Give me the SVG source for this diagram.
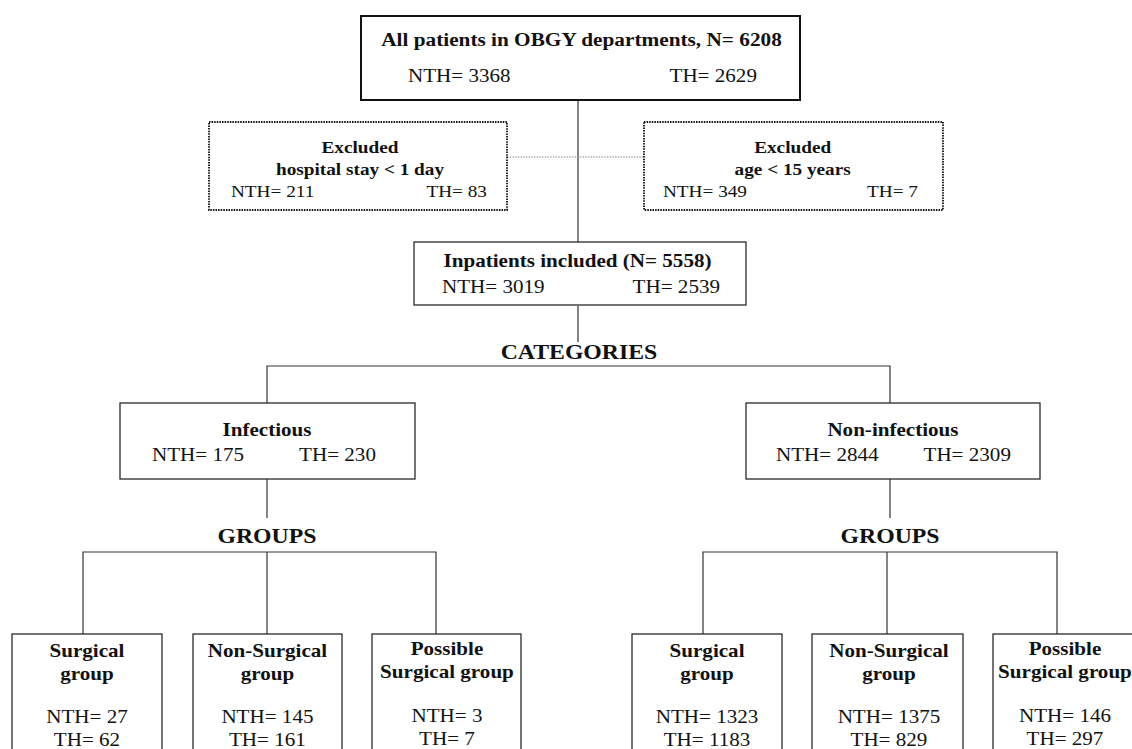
<svg xmlns="http://www.w3.org/2000/svg" width="1132" height="749" viewBox="0 0 1132 749">
<style>
  .bg{fill:#ffffff}
  .box{fill:#ffffff;stroke:#2a2a2a;stroke-width:1.3}
  .main{fill:#ffffff;stroke:#111111;stroke-width:2}
  .dot{fill:#ffffff;stroke:#111111;stroke-width:1.8;stroke-dasharray:1.5 1.1}
  .ln{fill:none;stroke:#333333;stroke-width:1.2}
  .dln{fill:none;stroke:#8a8a8a;stroke-width:1.2;stroke-dasharray:1.5 1.2}
  text{font-family:"Liberation Serif","Times New Roman",serif;fill:#111111}
  .t{font-weight:bold;font-size:19px}
  .b{font-weight:bold;font-size:18.5px}
  .r{font-size:18.5px}
  .bs{font-weight:bold;font-size:17.5px}
  .rs{font-size:17.5px}
  .h{font-weight:bold;font-size:22px}
  .c{text-anchor:middle}
  .e{text-anchor:end}
</style>
<rect class="bg" x="0" y="0" width="1132" height="749"/>

<g id="connectors">
  <line class="ln" x1="578" y1="100" x2="578" y2="242"/>
  <line class="dln" x1="507" y1="157" x2="644" y2="157"/>
  <line class="ln" x1="578" y1="306" x2="578" y2="342"/>
  <polyline class="ln" points="267,403 267,366 890,366 890,403"/>
  <line class="ln" x1="267" y1="479" x2="267" y2="518"/>
  <line class="ln" x1="890" y1="479" x2="890" y2="518"/>
  <polyline class="ln" points="83,634 83,552 436,552 436,634"/>
  <line class="ln" x1="267" y1="552" x2="267" y2="634"/>
  <polyline class="ln" points="703,634 703,552 1057,552 1057,634"/>
  <line class="ln" x1="887" y1="552" x2="887" y2="634"/>
</g>

<g id="all-patients">
  <rect class="main" x="361" y="16" width="439" height="84"/>
  <g transform="scale(1.12 1)">
    <text class="t c" x="519.2" y="46">All patients in OBGY departments, N= 6208</text>
  </g>
  <g transform="scale(1.14 1)">
    <text class="r" x="357.9" y="82">NTH= 3368</text>
    <text class="r e" x="664" y="82">TH= 2629</text>
  </g>
</g>

<g id="excluded-stay">
  <rect class="dot" x="209" y="122" width="298" height="88"/>
  <g transform="scale(1.1 1)">
    <text class="bs c" x="327.3" y="153">Excluded</text>
    <text class="bs c" x="327.3" y="175">hospital stay &lt; 1 day</text>
    <text class="rs" x="210" y="197">NTH= 211</text>
    <text class="rs e" x="442.7" y="197">TH= 83</text>
  </g>
</g>

<g id="excluded-age">
  <rect class="dot" x="644" y="122" width="299" height="88"/>
  <g transform="scale(1.1 1)">
    <text class="bs c" x="720.6" y="153">Excluded</text>
    <text class="bs c" x="720.6" y="175">age &lt; 15 years</text>
    <text class="rs" x="602.7" y="197">NTH= 349</text>
    <text class="rs e" x="834.5" y="197">TH= 7</text>
  </g>
</g>

<g id="inpatients">
  <rect class="box" x="414" y="242" width="332" height="63"/>
  <g transform="scale(1.14 1)">
    <text class="b c" x="506.6" y="267">Inpatients included (N= 5558)</text>
    <text class="r" x="387.7" y="293">NTH= 3019</text>
    <text class="r e" x="631.6" y="293">TH= 2539</text>
  </g>
</g>

<g id="categories">
  <g transform="scale(1.08 1)">
    <text class="h c" x="536.1" y="359">CATEGORIES</text>
  </g>
</g>

<g id="infectious">
  <rect class="box" x="120" y="403" width="295" height="76"/>
  <g transform="scale(1.14 1)">
    <text class="b c" x="234.2" y="436">Infectious</text>
    <text class="r" x="133.3" y="461">NTH= 175</text>
    <text class="r e" x="329.8" y="461">TH= 230</text>
  </g>
</g>

<g id="non-infectious">
  <rect class="box" x="746" y="403" width="294" height="76"/>
  <g transform="scale(1.14 1)">
    <text class="b c" x="783.3" y="436">Non-infectious</text>
    <text class="r" x="680.7" y="461">NTH= 2844</text>
    <text class="r e" x="886.8" y="461">TH= 2309</text>
  </g>
</g>

<g id="groups-left">
  <g transform="scale(1.08 1)">
    <text class="h c" x="247.2" y="543">GROUPS</text>
  </g>
</g>

<g id="groups-right">
  <g transform="scale(1.08 1)">
    <text class="h c" x="824.1" y="543">GROUPS</text>
  </g>
</g>

<g id="inf-surgical">
  <rect class="box" x="12" y="634" width="150" height="130"/>
  <g transform="scale(1.14 1)">
    <text class="b c" x="76.3" y="657">Surgical</text>
    <text class="b c" x="76.3" y="680">group</text>
    <text class="r c" x="76.3" y="723">NTH= 27</text>
    <text class="r c" x="76.3" y="746">TH= 62</text>
  </g>
</g>

<g id="inf-non-surgical">
  <rect class="box" x="193" y="634" width="149" height="130"/>
  <g transform="scale(1.14 1)">
    <text class="b c" x="234.6" y="657">Non-Surgical</text>
    <text class="b c" x="234.6" y="680">group</text>
    <text class="r c" x="234.6" y="723">NTH= 145</text>
    <text class="r c" x="234.6" y="746">TH= 161</text>
  </g>
</g>

<g id="inf-possible">
  <rect class="box" x="372" y="634" width="149" height="130"/>
  <g transform="scale(1.14 1)">
    <text class="b c" x="392.1" y="655">Possible</text>
    <text class="b c" x="392.1" y="678">Surgical group</text>
    <text class="r c" x="392.1" y="722">NTH= 3</text>
    <text class="r c" x="392.1" y="745">TH= 7</text>
  </g>
</g>

<g id="noninf-surgical">
  <rect class="box" x="632" y="634" width="150" height="130"/>
  <g transform="scale(1.14 1)">
    <text class="b c" x="620.2" y="657">Surgical</text>
    <text class="b c" x="620.2" y="680">group</text>
    <text class="r c" x="620.2" y="723">NTH= 1323</text>
    <text class="r c" x="620.2" y="746">TH= 1183</text>
  </g>
</g>

<g id="noninf-non-surgical">
  <rect class="box" x="812" y="634" width="151" height="130"/>
  <g transform="scale(1.14 1)">
    <text class="b c" x="779.8" y="657">Non-Surgical</text>
    <text class="b c" x="779.8" y="680">group</text>
    <text class="r c" x="779.8" y="723">NTH= 1375</text>
    <text class="r c" x="779.8" y="746">TH= 829</text>
  </g>
</g>

<g id="noninf-possible">
  <rect class="box" x="993" y="634" width="150" height="130"/>
  <g transform="scale(1.14 1)">
    <text class="b c" x="934.2" y="655">Possible</text>
    <text class="b c" x="934.2" y="678">Surgical group</text>
    <text class="r c" x="934.2" y="722">NTH= 146</text>
    <text class="r c" x="934.2" y="745">TH= 297</text>
  </g>
</g>
</svg>
